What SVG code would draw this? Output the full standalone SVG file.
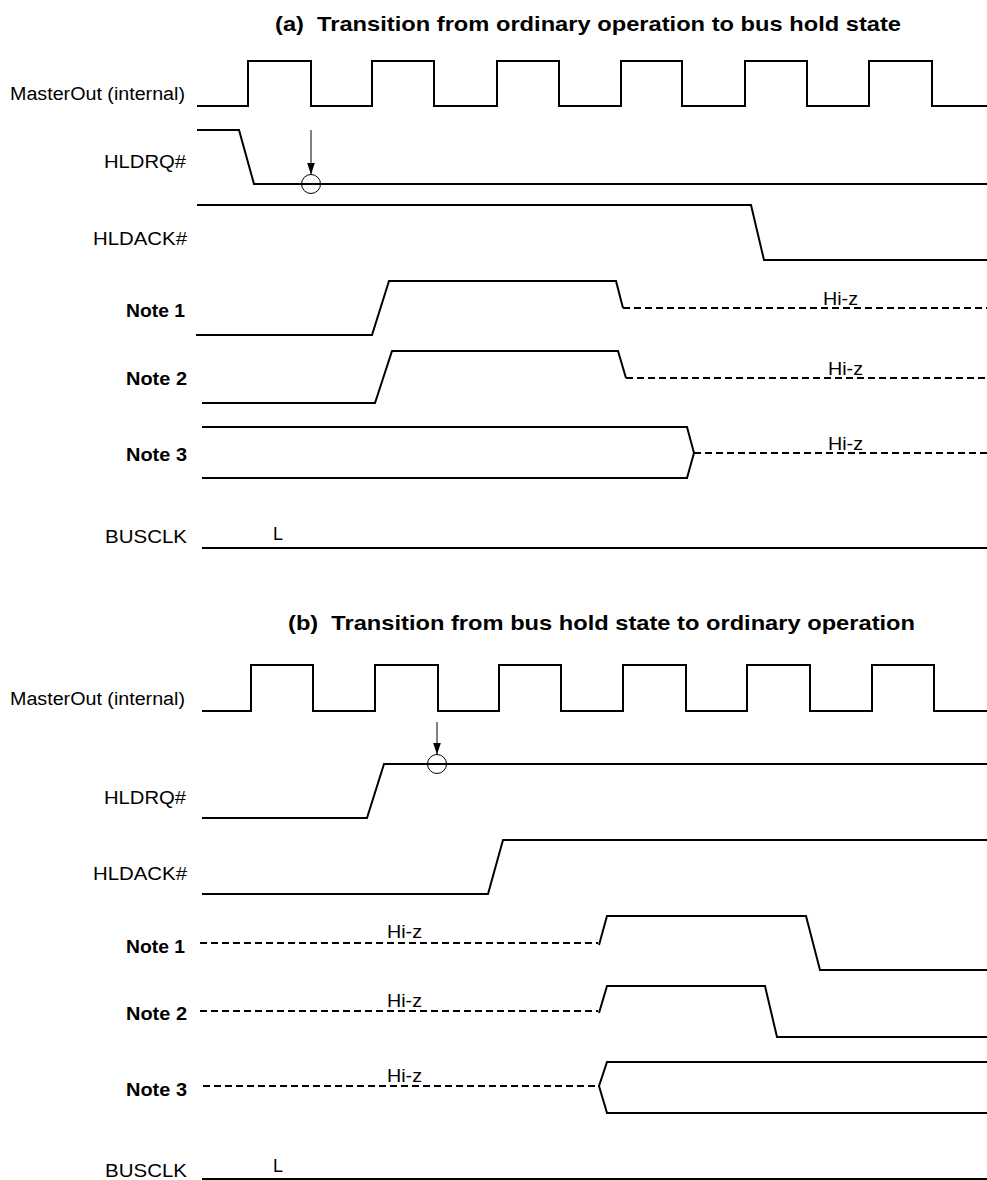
<svg xmlns="http://www.w3.org/2000/svg" width="987" height="1180" viewBox="0 0 987 1180">
<style>
text{font-family:"Liberation Sans",Arial,sans-serif;fill:#000}
.lbl{font-size:18px}
.b{font-weight:bold}
.ttl{font-size:21px;font-weight:bold}
.hz{font-size:18px}
.w{fill:none;stroke:#000;stroke-width:2;stroke-linejoin:miter}
.d{fill:none;stroke:#000;stroke-width:2;stroke-dasharray:7,4}
.thin{fill:none;stroke:#000;stroke-width:1}
</style>
<defs>
<marker id="ah" markerWidth="12" markerHeight="8" refX="12" refY="4" orient="auto" markerUnits="userSpaceOnUse">
<path d="M0,0 L12,4 L0,8 z" fill="#000"/>
</marker>
</defs>
<rect width="987" height="1180" fill="#fff"/>

<!-- Part (a) -->
<g id="title-a"><text class="ttl" x="275" y="31" textLength="626" lengthAdjust="spacingAndGlyphs">(a)&#160; Transition from ordinary operation to bus hold state</text></g>

<g id="a-masterout">
<text class="lbl" x="10" y="100" textLength="175" lengthAdjust="spacingAndGlyphs">MasterOut (internal)</text>
<path class="w" d="M197,106 H248 V61 H311 V106 H372 V61 H434 V106 H497 V61 H559 V106 H621 V61 H682 V106 H745 V61 H807 V106 H869 V61 H932 V106 H987"/>
</g>
<g id="a-hldrq">
<text class="lbl" x="104" y="168" textLength="82" lengthAdjust="spacingAndGlyphs">HLDRQ#</text>
<path class="w" d="M197,130 H239 L254,184 H987"/>
<circle class="thin" cx="311" cy="184" r="9.5"/>
</g>
<g id="a-hldack">
<text class="lbl" x="93" y="245" textLength="94" lengthAdjust="spacingAndGlyphs">HLDACK#</text>
<path class="w" d="M197,205 H751 L764,260 H987"/>
</g>
<g id="a-note1">
<text class="lbl b" x="126" y="317" textLength="59" lengthAdjust="spacingAndGlyphs">Note 1</text>
<path class="w" d="M196,335 H372 L389,281 H616 L623,308"/>
<path class="d" d="M623,308 H987"/>
<text class="hz" x="823" y="305" textLength="35" lengthAdjust="spacingAndGlyphs">Hi-z</text>
</g>
<g id="a-note2">
<text class="lbl b" x="126" y="385" textLength="61" lengthAdjust="spacingAndGlyphs">Note 2</text>
<path class="w" d="M202,403 H375 L392,351 H618 L626,378"/>
<path class="d" d="M626,378 H987"/>
<text class="hz" x="828" y="375" textLength="35" lengthAdjust="spacingAndGlyphs">Hi-z</text>
</g>
<g id="a-note3">
<text class="lbl b" x="126" y="461" textLength="61" lengthAdjust="spacingAndGlyphs">Note 3</text>
<path class="w" d="M202,427 H687 L694,453 L687,478 H202"/>
<path class="d" d="M694,453 H987"/>
<text class="hz" x="828" y="450" textLength="35" lengthAdjust="spacingAndGlyphs">Hi-z</text>
</g>
<g id="a-busclk">
<text class="lbl" x="105" y="543" textLength="82" lengthAdjust="spacingAndGlyphs">BUSCLK</text>
<path class="w" d="M202,548 H987"/>
<text class="lbl" x="273" y="540" textLength="10" lengthAdjust="spacingAndGlyphs">L</text>
</g>

<!-- Part (b) -->
<g id="title-b"><text class="ttl" x="288" y="630" textLength="627" lengthAdjust="spacingAndGlyphs">(b)&#160; Transition from bus hold state to ordinary operation</text></g>

<g id="b-masterout">
<text class="lbl" x="10" y="705" textLength="175" lengthAdjust="spacingAndGlyphs">MasterOut (internal)</text>
<path class="w" d="M202,711 H251 V665 H313 V711 H375 V665 H438 V711 H499 V665 H561 V711 H623 V665 H686 V711 H747 V665 H810 V711 H872 V665 H934 V711 H987"/>
</g>
<g id="b-hldrq">
<text class="lbl" x="104" y="804" textLength="82" lengthAdjust="spacingAndGlyphs">HLDRQ#</text>
<path class="w" d="M202,818 H367 L384,764 H987"/>
<circle class="thin" cx="437" cy="764" r="9.5"/>
</g>
<g id="b-hldack">
<text class="lbl" x="93" y="880" textLength="94" lengthAdjust="spacingAndGlyphs">HLDACK#</text>
<path class="w" d="M202,894 H488 L503,840 H987"/>
</g>
<g id="b-note1">
<text class="lbl b" x="126" y="953" textLength="59" lengthAdjust="spacingAndGlyphs">Note 1</text>
<path class="d" d="M200,943 H598"/>
<path class="w" d="M599,945 L607,916 H806 L820,970 H987"/>
<text class="hz" x="387" y="938" textLength="35" lengthAdjust="spacingAndGlyphs">Hi-z</text>
</g>
<g id="b-note2">
<text class="lbl b" x="126" y="1020" textLength="61" lengthAdjust="spacingAndGlyphs">Note 2</text>
<path class="d" d="M200,1011 H598"/>
<path class="w" d="M599,1013 L607,986 H765 L777,1037 H987"/>
<text class="hz" x="387" y="1007" textLength="35" lengthAdjust="spacingAndGlyphs">Hi-z</text>
</g>
<g id="b-note3">
<text class="lbl b" x="126" y="1096" textLength="61" lengthAdjust="spacingAndGlyphs">Note 3</text>
<path class="d" d="M203,1086 H599"/>
<path class="w" d="M987,1062 H607 L599,1086 L607,1113 H987"/>
<text class="hz" x="387" y="1082" textLength="35" lengthAdjust="spacingAndGlyphs">Hi-z</text>
</g>
<g id="b-busclk">
<text class="lbl" x="105" y="1177" textLength="82" lengthAdjust="spacingAndGlyphs">BUSCLK</text>
<path class="w" d="M202,1179 H987"/>
<text class="lbl" x="273" y="1172" textLength="10" lengthAdjust="spacingAndGlyphs">L</text>
</g>

<g id="connectors">
<path class="thin" d="M311,130 V174.5" marker-end="url(#ah)"/>
<path class="thin" d="M437,722 V754.5" marker-end="url(#ah)"/>
</g>
</svg>
